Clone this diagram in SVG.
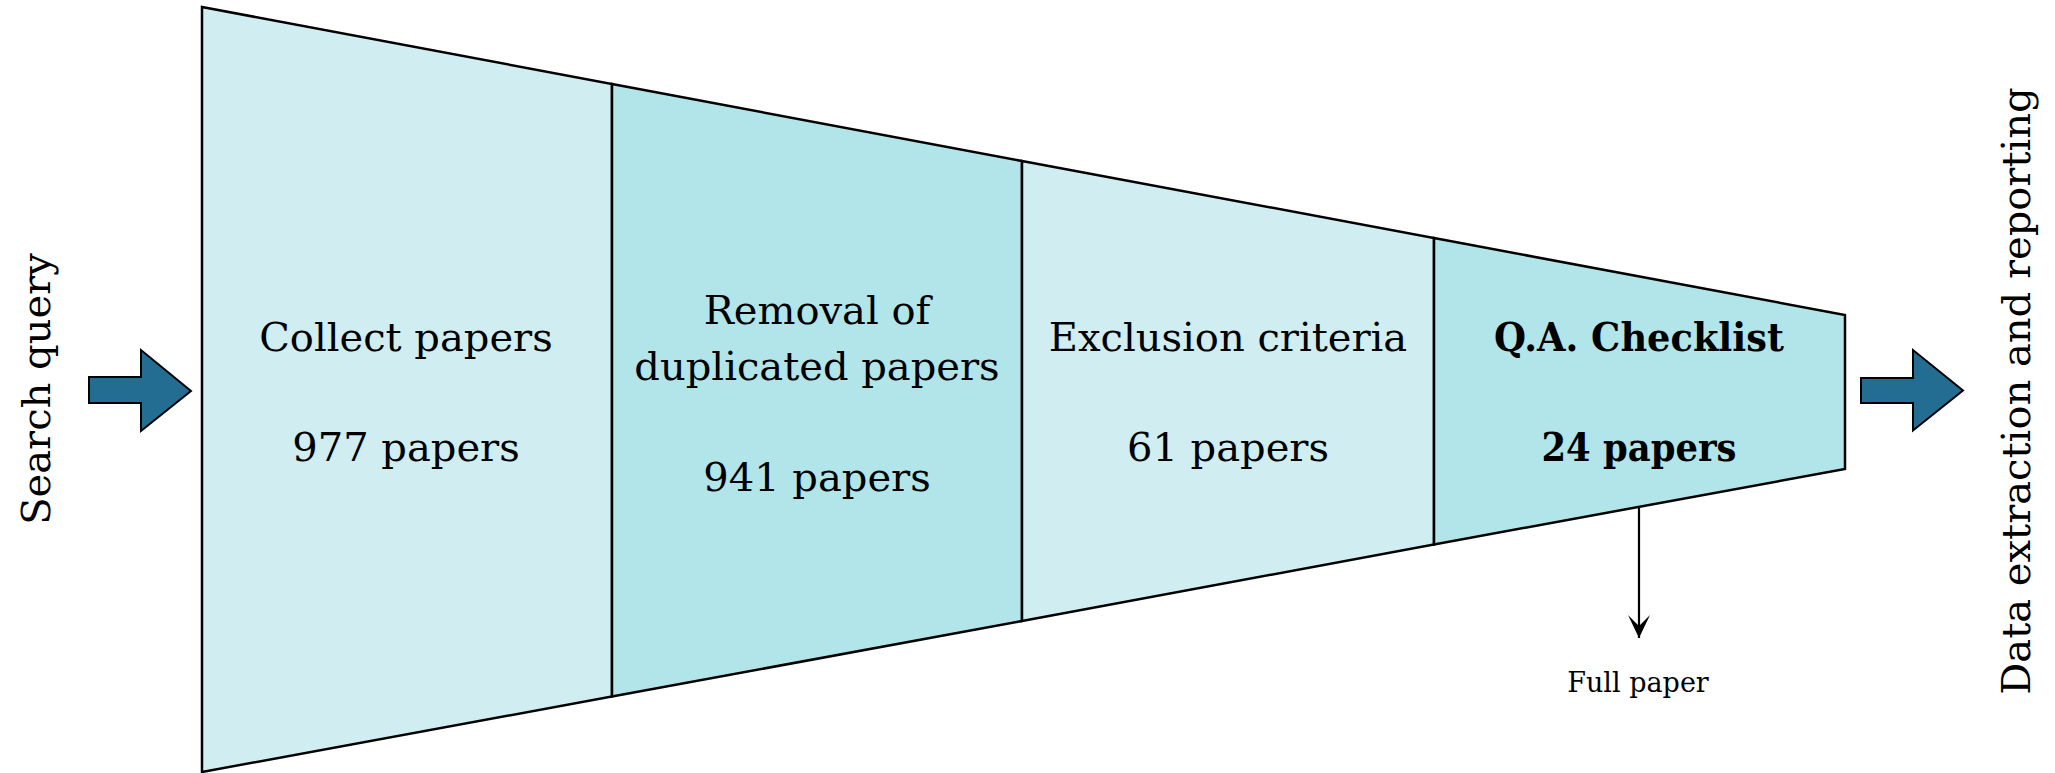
<svg xmlns="http://www.w3.org/2000/svg" width="2055" height="773" viewBox="0 0 2055 773">
<style>
.sec{stroke:#000;stroke-width:2.5;stroke-linejoin:miter}
.light{fill:#d0eef1}
.dark{fill:#b2e5ea}
.lbl{font-family:"DejaVu Serif",serif;font-size:40px;fill:#000;text-anchor:middle}
.bold{font-weight:bold}
.blk{fill:#246d92;stroke:#000;stroke-width:2}
.small{font-family:"DejaVu Serif",serif;font-size:27px;fill:#000;text-anchor:middle}
</style>
<defs>
<marker id="ah" markerUnits="userSpaceOnUse" viewBox="0 0 24 22" refX="23" refY="11" markerWidth="24" markerHeight="22" orient="auto">
<path d="M0,0 L23,11 L0,22 L11,11 Z" fill="#000"/>
</marker>
</defs>
<rect width="2055" height="773" fill="#fff"/>
<g id="stage-collect">
<polygon class="sec light" points="202,7 612,84 612,696.5 202,772"/>
<text class="lbl" x="406" y="351">Collect papers</text>
<text class="lbl" x="406" y="461">977 papers</text>
</g>
<g id="stage-dedup">
<polygon class="sec dark" points="612,84 1022,161 1022,621 612,696.5"/>
<text class="lbl" x="817" y="324">Removal of</text>
<text class="lbl" x="817" y="380">duplicated papers</text>
<text class="lbl" x="817" y="491">941 papers</text>
</g>
<g id="stage-exclusion">
<polygon class="sec light" points="1022,161 1434,238 1434,544.5 1022,621"/>
<text class="lbl" x="1228" y="351">Exclusion criteria</text>
<text class="lbl" x="1228" y="461">61 papers</text>
</g>
<g id="stage-qa">
<polygon class="sec dark" points="1434,238 1845,315 1845,469 1434,544.5"/>
<text class="lbl bold" x="1639" y="351" textLength="290" lengthAdjust="spacingAndGlyphs">Q.A. Checklist</text>
<text class="lbl bold" x="1639" y="461" textLength="195" lengthAdjust="spacingAndGlyphs">24 papers</text>
</g>
<g id="input">
<polygon class="blk" points="89,377 141,377 141,350 191,391 141,431 141,403 89,403"/>
<text class="lbl" transform="translate(50,389) rotate(-90)" x="0" y="0">Search query</text>
</g>
<g id="output">
<polygon class="blk" points="1861,378 1913,378 1913,350 1963,390.5 1913,430.5 1913,403 1861,403"/>
<text class="lbl" transform="translate(2030,391) rotate(-90)" x="0" y="0">Data extraction and reporting</text>
</g>
<g id="full-paper">
<text class="small" x="1638" y="692">Full paper</text>
</g>
<g id="connectors">
<line x1="1639" y1="507" x2="1639" y2="638" stroke="#000" stroke-width="2.2" marker-end="url(#ah)"/>
</g>
</svg>
